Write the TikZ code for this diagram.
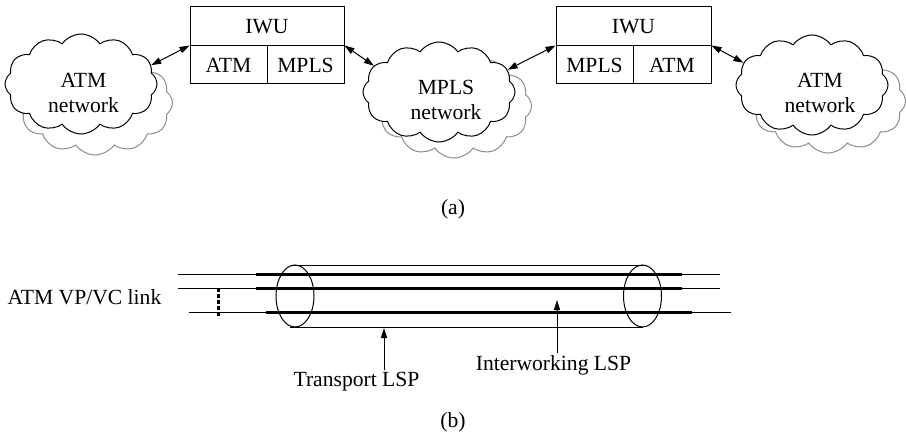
\documentclass[tikz,border=0pt]{standalone}
\usepackage{fontspec}
\setmainfont{Liberation Serif}
\usetikzlibrary{shapes.symbols,arrows.meta}
\begin{document}
\begin{tikzpicture}[x=1pt,y=-1pt,
  every node/.style={font=\fontsize{21.6}{25}\selectfont},
  backcloud/.style={cloud, cloud puffs=12, cloud puff arc=110, cloud ignores aspect, minimum width=155pt, minimum height=104pt, inner sep=0pt, draw=black!45, line width=1pt},
  frontcloud/.style={cloud, cloud puffs=12, cloud puff arc=110, cloud ignores aspect, minimum width=152pt, minimum height=100pt, inner sep=0pt, draw=black, fill=white, line width=1pt},
  cell/.style={draw, line width=1pt, inner sep=0pt},
  dbl/.style={{Triangle[length=10pt,width=6.5pt]}-{Triangle[length=10pt,width=6.5pt]}, line width=1pt},
  uparrow/.style={-{Triangle[length=10pt,width=6pt]}, line width=1pt},
  thinline/.style={line width=1pt},
  lspline/.style={line width=3pt},
  txt/.style={inner sep=0pt, align=center}
]
\useasboundingbox (0,0) rectangle (906,436);

% ---------- (a) ----------
% clouds
\node[backcloud] (g1) at (95,103) {};
\node[frontcloud] (c1) at (81,84) {};
\node[txt] (t1) at (83.5,92.5) {ATM\\network};

\node[backcloud] (g2) at (454,106) {};
\node[frontcloud] (c2) at (439,92) {};
\node[txt] (t2) at (446,100) {MPLS\\network};

\node[backcloud] (g3) at (828,101) {};
\node[frontcloud] (c3) at (812,85) {};
\node[txt] (t3) at (820,92.5) {ATM\\network};

% IWU boxes
\node[cell, minimum width=154pt, minimum height=39pt] (b1t) at (267,26.5) {IWU};
\node[cell, minimum width=77pt, minimum height=38pt] (b1a) at (228.5,65) {ATM};
\node[cell, minimum width=77pt, minimum height=38pt] (b1b) at (305.5,65) {MPLS};

\node[cell, minimum width=155pt, minimum height=39pt] (b2t) at (633.5,26.5) {IWU};
\node[cell, minimum width=77pt, minimum height=38pt] (b2a) at (594.5,65) {MPLS};
\node[cell, minimum width=78pt, minimum height=38pt] (b2b) at (672,65) {ATM};

% arrows
\draw[dbl] (c1.15) -- (b1a.north west);
\draw[dbl] (b1b.north east) -- (c2.158);
\draw[dbl] (c2.18) -- (b2a.north west);
\draw[dbl] (b2b.north east) -- (c3.162);

\node (la) at (453,209) {(a)};

% ---------- (b) ----------
% tube
\draw[thinline] (293,265) -- (643,265);
\draw[thinline] (290,327) -- (643,327);
\draw[thinline] (295,296) ellipse [x radius=19, y radius=31];
\draw[thinline] (642.5,296) ellipse [x radius=19, y radius=31];

% links
\draw[thinline] (178,274.5) -- (720,274.5);
\draw[lspline] (256,274.5) -- (682,274.5);
\draw[thinline] (178,288.5) -- (720,288.5);
\draw[lspline] (256,288.5) -- (682,288.5);
\draw[thinline] (189,312) -- (731,312);
\draw[lspline] (266,312) -- (692,312);

\draw[line width=3pt, dash pattern=on 4pt off 2pt] (218,288) -- (218,318);

\node (vp) at (84.5,297) {ATM VP/VC link};

\node[inner sep=0pt] (tr) at (356.5,382) {Transport LSP};
\coordinate (trp) at (384,328);
\draw[uparrow, shorten <=2pt] (tr.north -| trp) -- (trp);

\node[inner sep=0pt] (iw) at (553.5,365) {Interworking LSP};
\coordinate (iwp) at (557,300);
\draw[uparrow, shorten <=2pt] (iw.north -| iwp) -- (iwp);

\node (lb) at (453,422) {(b)};
\end{tikzpicture}
\end{document}
